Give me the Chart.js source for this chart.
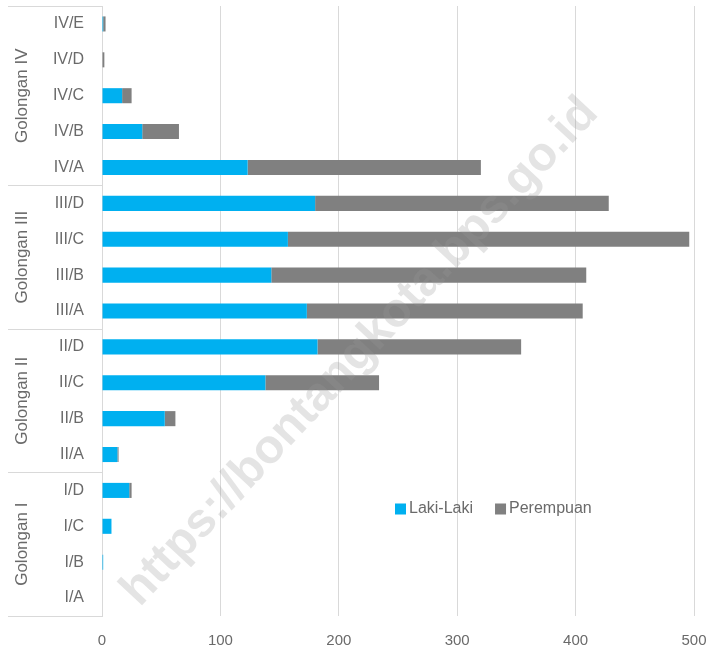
<!DOCTYPE html>
<html>
<head>
<meta charset="utf-8">
<script src="https://cdn.jsdelivr.net/npm/chart.js@4/dist/chart.umd.min.js"></script>
<style>
html,body{margin:0;padding:0;background:#fff;}
#wrap{width:710px;height:652px;position:relative;}
</style>
</head>
<body>
<div id="wrap"><canvas id="c"></canvas></div>
<script>
const categories = ['IV/E','IV/D','IV/C','IV/B','IV/A','III/D','III/C','III/B','III/A','II/D','II/C','II/B','II/A','I/D','I/C','I/B','I/A'];
const lakiLaki  = [1, 0, 17, 34, 123, 180, 157, 143, 173, 182, 138, 53, 13, 23, 8, 1, 0];
const perempuan = [2, 2, 8, 31, 197, 248, 339, 266, 233, 172, 96, 9, 1, 2, 0, 0, 0];
const groupNames = ['Golongan IV','Golongan III','Golongan II','Golongan I'];
const groupSizes = [5, 4, 4, 4];
const seriesNames = ['Laki-Laki','Perempuan'];
const xMin = 0, xMax = 500, xStep = 100;
const watermarkText = 'https://bontangkota.bps.go.id';

const FONT = "'Liberation Sans', Arial, sans-serif";
const TEXT = '#6a6a6a';
const GRID = '#d9d9d9';
const BLUE = '#00B0F0';
const GREY = '#808080';

const groupPlugin = {
  id: 'groups',
  afterDraw(chart) {
    const ctx = chart.ctx, y = chart.scales.y, area = chart.chartArea;
    const band = y.getPixelForValue(1) - y.getPixelForValue(0);
    const x0 = 8, x1 = area.left;
    ctx.save();
    ctx.strokeStyle = GRID; ctx.lineWidth = 1;
    const hline = (py) => { ctx.beginPath(); ctx.moveTo(x0, Math.round(py) + 0.5); ctx.lineTo(x1, Math.round(py) + 0.5); ctx.stroke(); };
    hline(y.getPixelForValue(0) - band / 2);
    let idx = 0;
    groupSizes.forEach((n, g) => {
      const top = y.getPixelForValue(idx) - band / 2;
      const bot = y.getPixelForValue(idx + n - 1) + band / 2;
      hline(bot);
      ctx.save();
      ctx.translate(22, (top + bot) / 2);
      ctx.rotate(-Math.PI / 2);
      ctx.fillStyle = TEXT;
      ctx.font = "17px " + FONT;
      ctx.textAlign = 'center';
      ctx.textBaseline = 'middle';
      ctx.fillText(groupNames[g], 0, 0);
      ctx.restore();
      idx += n;
    });
    // legend
    const ds = chart.data.datasets;
    let lx = 395; const ly = 509;
    ctx.font = "16px " + FONT;
    ctx.textBaseline = 'middle';
    ctx.textAlign = 'left';
    ds.forEach((d) => {
      ctx.fillStyle = d.backgroundColor;
      ctx.fillRect(lx, ly - 5.5, 11, 11);
      ctx.fillStyle = TEXT;
      ctx.fillText(d.label, lx + 14, ly);
      lx += 14 + ctx.measureText(d.label).width + 22;
    });
    // watermark
    ctx.save();
    ctx.translate(360, 352);
    ctx.rotate(-47 * Math.PI / 180);
    ctx.font = "bold 48px " + FONT;
    ctx.fillStyle = 'rgba(150,150,150,0.26)';
    ctx.textAlign = 'center';
    ctx.textBaseline = 'middle';
    ctx.fillText(watermarkText, 0, 0);
    ctx.restore();
    ctx.restore();
  }
};

function noPad(s) { s.paddingTop = 0; s.paddingBottom = 0; s.paddingLeft = 0; s.paddingRight = 0; }

new Chart(document.getElementById('c'), {
  type: 'bar',
  data: {
    labels: categories,
    datasets: [
      { label: seriesNames[0], data: lakiLaki, backgroundColor: BLUE, borderWidth: 0 },
      { label: seriesNames[1], data: perempuan, backgroundColor: GREY, borderWidth: 0 }
    ]
  },
  options: {
    indexAxis: 'y',
    responsive: true,
    maintainAspectRatio: false,
    animation: false,
    layout: { padding: { top: 6, right: 16, left: 0, bottom: 0 } },
    datasets: { bar: { categoryPercentage: 1, barPercentage: 0.42 } },
    plugins: { legend: { display: false }, tooltip: { enabled: false } },
    scales: {
      x: {
        stacked: true, min: xMin, max: xMax,
        ticks: { stepSize: xStep, color: TEXT, font: { size: 15, family: FONT }, padding: 16 },
        grid: { color: GRID, drawTicks: false, lineWidth: 1 },
        border: { display: false },
        afterFit(s) { s.height = 36; noPad(s); }
      },
      y: {
        stacked: true,
        ticks: { color: TEXT, font: { size: 16, family: FONT }, padding: 18 },
        grid: { display: false, drawTicks: false },
        border: { display: true, color: GRID },
        afterFit(s) { s.width = 102; noPad(s); }
      }
    }
  },
  plugins: [groupPlugin]
});
</script>
</body>
</html>
